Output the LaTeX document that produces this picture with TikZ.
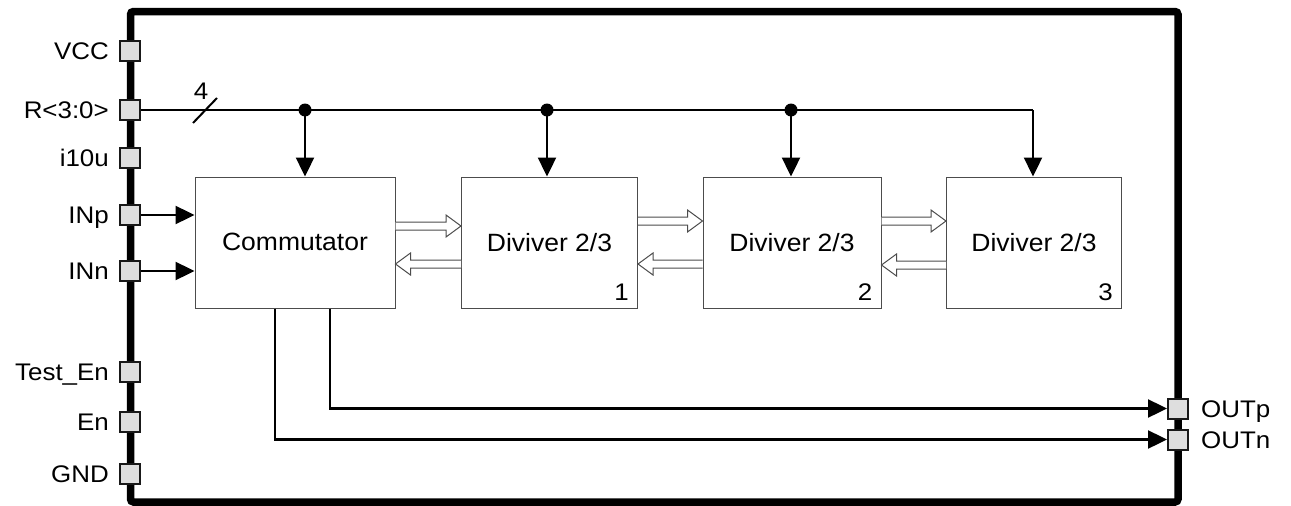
\documentclass[tikz,border=0pt]{standalone}
\usepackage{fontspec}
\setmainfont{Liberation Sans}
\usetikzlibrary{calc,arrows.meta}
\newcommand\hsc[1]{\scalebox{1.08}[1]{#1}}
\newcommand\bsc[1]{\scalebox{1.06}[1]{#1}}
\newcommand\harrow[2]{%
  \draw[hol] let \p1=(#1), \p2=(#2), \n1={2*(\x2>\x1)-1} in
    (\x1,{\y1+4pt}) -- ({\x2-15pt*\n1},{\y1+4pt}) -- ({\x2-15pt*\n1},{\y1+11pt})
    -- (\x2,\y1) -- ({\x2-15pt*\n1},{\y1-11pt}) -- ({\x2-15pt*\n1},{\y1-4pt}) -- (\x1,{\y1-4pt});}
\begin{document}
\begin{tikzpicture}[x=1pt,y=-1pt,
  pinbox/.style={draw=black!90,fill=black!13,line width=2pt,minimum size=20pt,inner sep=0pt},
  lbl/.style={font=\fontsize{24}{28}\selectfont,inner sep=0pt},
  blk/.style={draw=black!70,line width=1pt,minimum height=131pt,inner sep=0pt},
  btxt/.style={font=\fontsize{25}{30}\selectfont,inner sep=0pt},
  arr/.style={line width=2.4pt,-{Triangle[length=19pt,width=18pt]}},
  wire/.style={line width=2.2pt},
  hol/.style={draw=black!70,line width=1pt,fill=white}]
\useasboundingbox (0,0) rectangle (1291,506);
% frame
\draw[line width=7.5pt,rounded corners=3pt] (130.5,11.5) rectangle (1178,502);
% blocks
\node[blk,minimum width=200pt] (com) at (295,242.5) {};
\node[blk,minimum width=176pt] (d1) at (549.5,242.5) {};
\node[blk,minimum width=178pt] (d2) at (792,242.5) {};
\node[blk,minimum width=175pt] (d3) at (1034,242.5) {};
\node[btxt,anchor=base] at ($(com.center)+(0,8)$) {\bsc{Commutator}};
\node[btxt,anchor=base] at ($(d1.center)+(0,8.5)$) {\bsc{Diviver 2/3}};
\node[btxt,anchor=base] at ($(d2.center)+(0,8.5)$) {\bsc{Diviver 2/3}};
\node[btxt,anchor=base] at ($(d3.center)+(0,8.5)$) {\bsc{Diviver 2/3}};
\node[lbl,anchor=base east] at ($(d1.south east)+(-9,-8)$) {\hsc{1}};
\node[lbl,anchor=base east] at ($(d2.south east)+(-9,-8)$) {\hsc{2}};
\node[lbl,anchor=base east] at ($(d3.south east)+(-9,-8)$) {\hsc{3}};
% pins
\node[pinbox] (vcc) at (130,51) {};
\node[pinbox] (r) at (130,110) {};
\node[pinbox] (i10) at (130,158) {};
\node[pinbox] (inp) at (130,215) {};
\node[pinbox] (inn) at (130,271) {};
\node[pinbox] (ten) at (130,372) {};
\node[pinbox] (en) at (130,422) {};
\node[pinbox] (gnd) at (130,474) {};
\node[pinbox] (outp) at (1178,408.5) {};
\node[pinbox] (outn) at (1178,439.5) {};
\foreach \p/\t in {vcc/VCC,r/R<3:0>,i10/i10u,inp/INp,inn/INn,ten/Test\_En,en/En,gnd/GND}
  \node[lbl,anchor=base east] at ($(\p.west)+(-10,8.5)$) {\hsc{\t}};
\node[lbl,anchor=base west] at ($(outp.east)+(12,8.5)$) {\hsc{OUTp}};
\node[lbl,anchor=base west] at ($(outn.east)+(12,8.5)$) {\hsc{OUTn}};
% bus
\coordinate (b0) at (305,110);
\coordinate (b1) at (547,110);
\coordinate (b2) at (791,110);
\coordinate (b3) at (1033,110);
\draw[wire] (r.east) -- (b3);
\draw[arr] (b3) -- (b3 |- d3.north);
\draw[arr] (b0) -- (b0 |- com.north);
\draw[arr] (b1) -- (b1 |- d1.north);
\draw[arr] (b2) -- (b2 |- d2.north);
\foreach \b in {b0,b1,b2} \fill (\b) circle (6.5);
\coordinate (s1) at (193,123);
\coordinate (s2) at (217,98);
\draw[line width=2pt] (s1) -- (s2);
\node[font=\fontsize{24}{28}\selectfont,inner sep=0pt,anchor=base] at (201,99) {\hsc{4}};
% inputs
\draw[arr] (inp.east) -- (inp.east -| com.west);
\draw[arr] (inn.east) -- (inn.east -| com.west);
% outputs
\draw[arr] (330,0 |- com.south) |- (outp.west);
\draw[arr] (275,0 |- com.south) |- (outn.west);
% hollow arrows
\harrow{com.east |- 0,226}{d1.west |- 0,226}
\harrow{d1.west |- 0,264}{com.east |- 0,264}
\harrow{d1.east |- 0,221}{d2.west |- 0,221}
\harrow{d2.west |- 0,264}{d1.east |- 0,264}
\harrow{d2.east |- 0,221}{d3.west |- 0,221}
\harrow{d3.west |- 0,265}{d2.east |- 0,265}
\end{tikzpicture}
\end{document}
